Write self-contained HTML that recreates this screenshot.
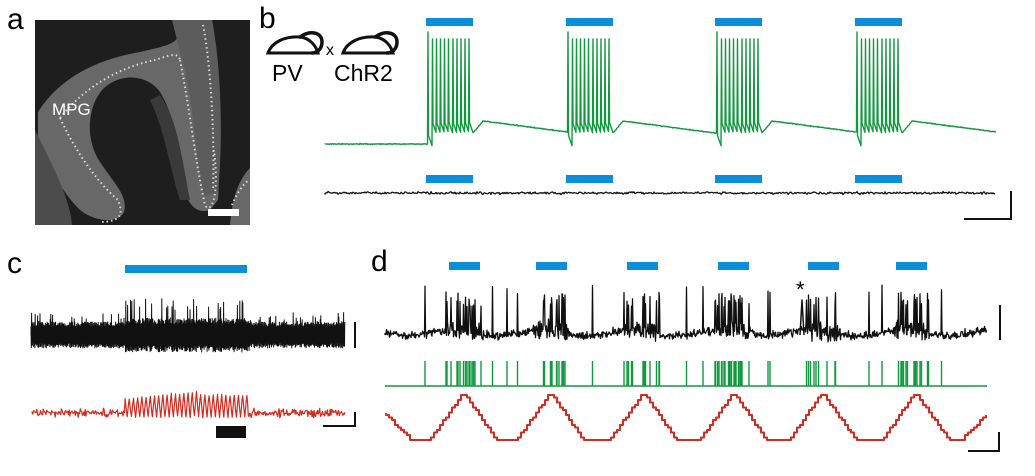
<!DOCTYPE html>
<html><head><meta charset="utf-8"><style>
body{margin:0;background:#fff;width:1035px;height:476px;overflow:hidden}
svg{display:block}
text{font-family:"Liberation Sans",sans-serif}
</style></head><body>
<svg id="s" width="1035" height="476" viewBox="0 0 1035 476" xmlns="http://www.w3.org/2000/svg">
<text x="7" y="29" font-size="30">a</text>
<text x="259" y="28" font-size="30">b</text>
<text x="7" y="273" font-size="30">c</text>
<text x="371" y="271" font-size="30">d</text>
<!-- panel a image -->
<rect x="35" y="20" width="215" height="205" fill="#1e1e1e"/>
<g fill="#686868">
<path d="M38 112 C60 78 95 60 140 52 C165 46 180 44 178 32 L200 24 C214 60 222 140 218 200 L210 210 C198 214 190 206 186 195 C178 150 176 118 160 92 C148 75 122 72 104 88 C88 104 84 138 100 162 C116 186 128 196 124 212 C118 224 95 222 80 210 C60 190 45 160 38 140Z"/>
<path d="M172 20 L212 20 C220 60 224 130 218 192 L204 196 C194 150 194 100 182 60Z" fill="#5c5c5c"/>
<path d="M250 168 C238 180 232 200 230 225 L250 225Z"/>
<path d="M35 130 C55 170 70 200 72 225 L35 225Z" fill="#4c4c4c"/>
<path d="M150 100 C165 130 170 170 180 200 L190 200 C182 160 178 120 160 95Z" fill="#3a3a3a"/>
</g>
<g fill="none" stroke="#d8d8d8" stroke-width="2" stroke-dasharray="1.5 3">
<path d="M60 118 C90 80 130 65 155 60 C170 55 178 52 180 60"/>
<path d="M180 60 C190 110 195 160 205 205 C210 215 220 200 214 150"/>
<path d="M60 118 C75 150 95 180 118 200 C124 215 120 222 100 222"/>
<path d="M203 25 C210 60 215 130 213 190"/>
<path d="M232 205 C236 195 242 185 249 180"/>
</g>
<text x="52" y="115" font-size="17" fill="#fff">MPG</text>
<rect x="208" y="209" width="31" height="7" fill="#fff"/>
<!-- mice -->
<g fill="none" stroke="#111" stroke-width="3.5" stroke-linecap="round">
<path d="M268 53 C272 42 285 36 300 37 C310 38 316 46 318 53 Z" stroke-width="3"/>
<path d="M300 37 C310 30 322 32 322 42 C322 50 316 53 312 53"/>
<path d="M343 53 C347 42 360 36 375 37 C385 38 391 46 393 53 Z" stroke-width="3"/>
<path d="M375 37 C385 30 397 32 397 42 C397 50 391 53 387 53"/>
</g>
<text x="326" y="55" font-size="16">x</text>
<text x="272" y="81" font-size="23">PV</text>
<text x="334" y="81" font-size="23">ChR2</text>
<g fill="#0a8fd8">
<rect x="426" y="18" width="47" height="8"/><rect x="566" y="18" width="47" height="8"/><rect x="715" y="18" width="47" height="8"/><rect x="855" y="18" width="47" height="8"/>
<rect x="426" y="175" width="47" height="8"/><rect x="566" y="175" width="47" height="8"/><rect x="715" y="175" width="47" height="8"/><rect x="855" y="175" width="47" height="8"/>
<rect x="125" y="265" width="122" height="8"/>
<rect x="449" y="262" width="31" height="8"/><rect x="536" y="262" width="31" height="8"/><rect x="627" y="262" width="31" height="8"/><rect x="718" y="262" width="31" height="8"/><rect x="808" y="262" width="31" height="8"/><rect x="896" y="262" width="31" height="8"/>
</g>
<g stroke="#111" stroke-width="2" fill="none">
<path d="M1011 191 V219 H964"/>
<path d="M355 322 V348"/>
<path d="M355 412 V426 H323"/>
<path d="M1000 305 V340"/>
<path d="M999 432 V451 H968"/>
</g>
<rect x="216" y="426" width="30" height="12" fill="#111"/>
<text x="796" y="297" font-size="22">*</text>
<g id="tr"></g>
</svg>
<script>
var seed=7;function r(){seed=(seed*16807)%2147483647;return seed/2147483647;}
function n(){return r()+r()+r()-1.5;}
var tr=document.getElementById('tr');
function P(d,c,w){var p=document.createElementNS('http://www.w3.org/2000/svg','path');p.setAttribute('d',d);p.setAttribute('stroke',c);p.setAttribute('stroke-width',w);p.setAttribute('fill','none');p.setAttribute('stroke-linejoin','round');tr.appendChild(p);}
// panel b green
var bs=[426,566,715,855],d='M325 144';
var x,y;
for(x=325;x<=996;x+=0.5){
 var inb=-1,i;for(i=0;i<4;i++)if(x>=bs[i]+2&&x<=bs[i]+47)inb=i;
 var base;
 var prev=-1;for(i=0;i<4;i++)if(x>bs[i]+47)prev=i;
 if(prev<0)base=144;else{var t=x-(bs[prev]+47);base=t<10?133-12*(t/10):121+(t-10)*0.13;if(base>140)base=140;}
 if(inb>=0){var ph=(x-bs[inb]-2)/4.1;var f=ph-Math.floor(ph);
  if(f<0.1){d+=' L'+x+' '+(34+(Math.floor(ph)==0?-2:5));continue;}
  y=(Math.floor(ph)==0?134:121)+f*12;}else y=base+n()*0.4;
 d+=' L'+x+' '+y.toFixed(1);}
P(d,'#12993f',1.4);
// black b
d='M325 193';for(x=325;x<=995;x+=1)d+=' L'+x+' '+(193+n()*1.2).toFixed(1);P(d,'#111',1.3);
// c black
d='M31 335';var s=1;for(x=31;x<=345;x+=0.3){var act=x>125&&x<250;var a=act?17:13;s=-s;y=335+s*a*(0.6+0.4*r());if(s<0&&r()<0.15)y=(act?298:312)+r()*12;d+=' L'+x.toFixed(1)+' '+y.toFixed(1);}P(d,'#111',1);
// c red
d='M32 413';for(x=32;x<=345;x+=0.7){if(x>125&&x<248){var ph2=((x-125)/4.2)%1;y=418-Math.abs(ph2-0.5)*2*(20+(x<200?(x-125)/10:4))+n()*1;}else y=413+n()*4;d+=' L'+x.toFixed(1)+' '+y.toFixed(1);}P(d,'#d42a1f',1.2);
// d black
var db=[449,536,627,718,808,896];
d='M385 335';var spk=[];for(x=385;x<=987;x+=0.5){var ins=-1;for(i=0;i<6;i++)if(x>=db[i]-3&&x<=db[i]+33)ins=i;
 var wave=Math.sin((x-385)/90*2*Math.PI)*3;y=333+wave+n()*(ins>=0?9:4);
 if(ins>=0&&r()<0.2){y=292+r()*15;spk.push(x);}else if(ins<0&&r()<0.012){y=285+r()*10;spk.push(x);}
 d+=' L'+x+' '+y.toFixed(1);}
P(d,'#111',1.3);
P('M800 335 L802 300 L804 335','#111',1.5);
// raster
d='M385 386 H987';for(i=0;i<spk.length;i++)d+=' M'+spk[i]+' 386 V361';P(d,'#12993f',1.4);
// red triangle
var pk=[463,550,643,733,822,915];d='M385 414';
function tri(x){var best=1e9;for(var i=0;i<pk.length;i++){var dd=Math.abs(x-pk[i]);if(dd<best)best=dd;}return 393+Math.min(best,34)*1.4;}
var ly=414;for(x=386;x<=987;x+=3){var ty=x<410?414+(x-385)*1.0:tri(x);if(x>960)ty=441-(x-960)*1.0;ty=Math.round(ty/2.5)*2.5;d+=' L'+x+' '+ly+' L'+x+' '+ty;ly=ty;}
P(d,'#d42a1f',2);
</script>
</body></html>
